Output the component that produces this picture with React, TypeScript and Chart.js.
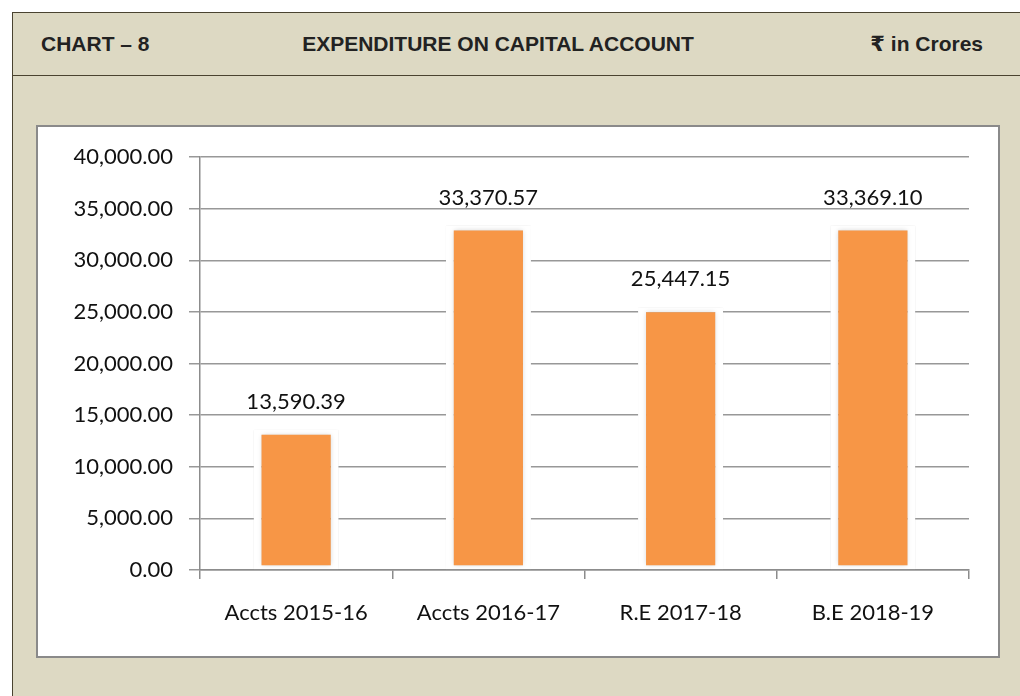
import React, { useEffect, useRef } from "react";
import { Chart, registerables } from "chart.js";

Chart.register(...registerables);

const categories = ["Accts 2015-16", "Accts 2016-17", "R.E 2017-18", "B.E 2018-19"];
const values = [13590.39, 33370.57, 25447.15, 33369.1];
const yTicks = [0, 5000, 10000, 15000, 20000, 25000, 30000, 35000, 40000];

const fmt = (v: number) =>
  v.toLocaleString("en-US", { minimumFractionDigits: 2, maximumFractionDigits: 2 });

const FONT = "Lato, 'Open Sans', 'Noto Sans', sans-serif";
const FSIZE = 22;

const labelPlugin = {
  id: "valueLabels",
  afterDatasetsDraw(chart: any) {
    const ctx = chart.ctx;
    const meta = chart.getDatasetMeta(0);
    ctx.save();
    ctx.font = `${FSIZE}px ${FONT}`;
    ctx.fillStyle = "#111";
    ctx.textAlign = "center";
    ctx.textBaseline = "middle";
    meta.data.forEach((bar: any, i: number) => {
      ctx.fillText(fmt(values[i]), bar.x, bar.y - 28);
    });
    ctx.restore();
  },
};

const shadowPlugin = {
  id: "barShadow",
  beforeDatasetDraw(chart: any) {
    const ctx = chart.ctx;
    ctx.save();
    ctx.shadowColor = "rgba(0,0,0,0.18)";
    ctx.shadowBlur = 5;
  },
  afterDatasetDraw(chart: any) {
    chart.ctx.restore();
  },
};

export default function App() {
  const ref = useRef<HTMLCanvasElement | null>(null);

  useEffect(() => {
    if (!ref.current) return;
    const chart = new Chart(ref.current, {
      type: "bar",
      data: {
        labels: categories,
        datasets: [
          {
            data: values,
            backgroundColor: "#F79646",
            borderColor: "#FFFFFF",
            borderWidth: { top: 5, left: 8, right: 8, bottom: 4 },
            borderSkipped: false,
            categoryPercentage: 1,
            barPercentage: 0.443,
          },
        ],
      },
      options: {
        animation: false,
        responsive: false,
        maintainAspectRatio: false,
        layout: { padding: { top: 30, right: 29, left: 0, bottom: 0 } },
        plugins: { legend: { display: false }, tooltip: { enabled: false } },
        scales: {
          x: {
            offset: true,
            grid: {
              offset: true,
              drawOnChartArea: false,
              drawTicks: true,
              tickLength: 9,
              color: "#8c8c8c",
              lineWidth: 1.5,
            },
            border: { display: true, color: "#8c8c8c", width: 1.5 },
            ticks: {
              color: "#111",
              font: { family: FONT, size: FSIZE },
              padding: 21,
              maxRotation: 0,
            },
            afterFit(scale: any) {
              scale.height = 86;
            },
          },
          y: {
            min: 0,
            max: 40000,
            afterBuildTicks(scale: any) {
              scale.ticks = yTicks.map((v) => ({ value: v }));
            },
            grid: {
              color: "#989898",
              lineWidth: 1.5,
              tickLength: 11,
            },
            border: { display: true, color: "#8c8c8c", width: 1.5 },
            ticks: {
              color: "#111",
              font: { family: FONT, size: FSIZE },
              padding: 16,
              callback: (v: any) => fmt(Number(v)),
            },
            afterFit(scale: any) {
              scale.width = 162;
            },
          },
        },
      },
      plugins: [shadowPlugin, labelPlugin],
    });
    return () => chart.destroy();
  }, []);

  const headerText: React.CSSProperties = {
    position: "absolute",
    top: 31,
    fontFamily: "'Liberation Sans', Arial, 'DejaVu Sans', sans-serif",
    fontWeight: "bold",
    fontSize: 21,
    color: "#222",
    lineHeight: "26px",
    whiteSpace: "nowrap",
  };

  return (
    <div style={{ position: "absolute", left: 0, top: 0, width: 1020, height: 696, overflow: "hidden", background: "#fff" }}>
      <div
        style={{
          position: "absolute",
          left: 12,
          top: 12,
          width: 1020,
          height: 700,
          background: "#DDD9C3",
          borderTop: "1.5px solid #4a4330",
          borderLeft: "1.5px solid #4a4330",
        }}
      />
      <div style={{ position: "absolute", left: 12, top: 75, width: 1010, height: 0, borderTop: "1.5px solid #4a4330" }} />
      <div style={{ ...headerText, left: 41 }}>CHART – 8</div>
      <div style={{ ...headerText, left: 498, transform: "translateX(-50%)" }}>EXPENDITURE ON CAPITAL ACCOUNT</div>
      <div style={{ ...headerText, right: 37, fontFamily: "'Liberation Sans', Arial, 'DejaVu Sans', 'Noto Sans', sans-serif" }}>
        ₹ in Crores
      </div>
      <div
        style={{
          position: "absolute",
          left: 36,
          top: 125,
          width: 960,
          height: 529,
          background: "#fff",
          border: "2px solid #8a8a8a",
        }}
      >
        <canvas ref={ref} width={960} height={529} style={{ display: "block", width: 960, height: 529 }} />
      </div>
    </div>
  );
}
